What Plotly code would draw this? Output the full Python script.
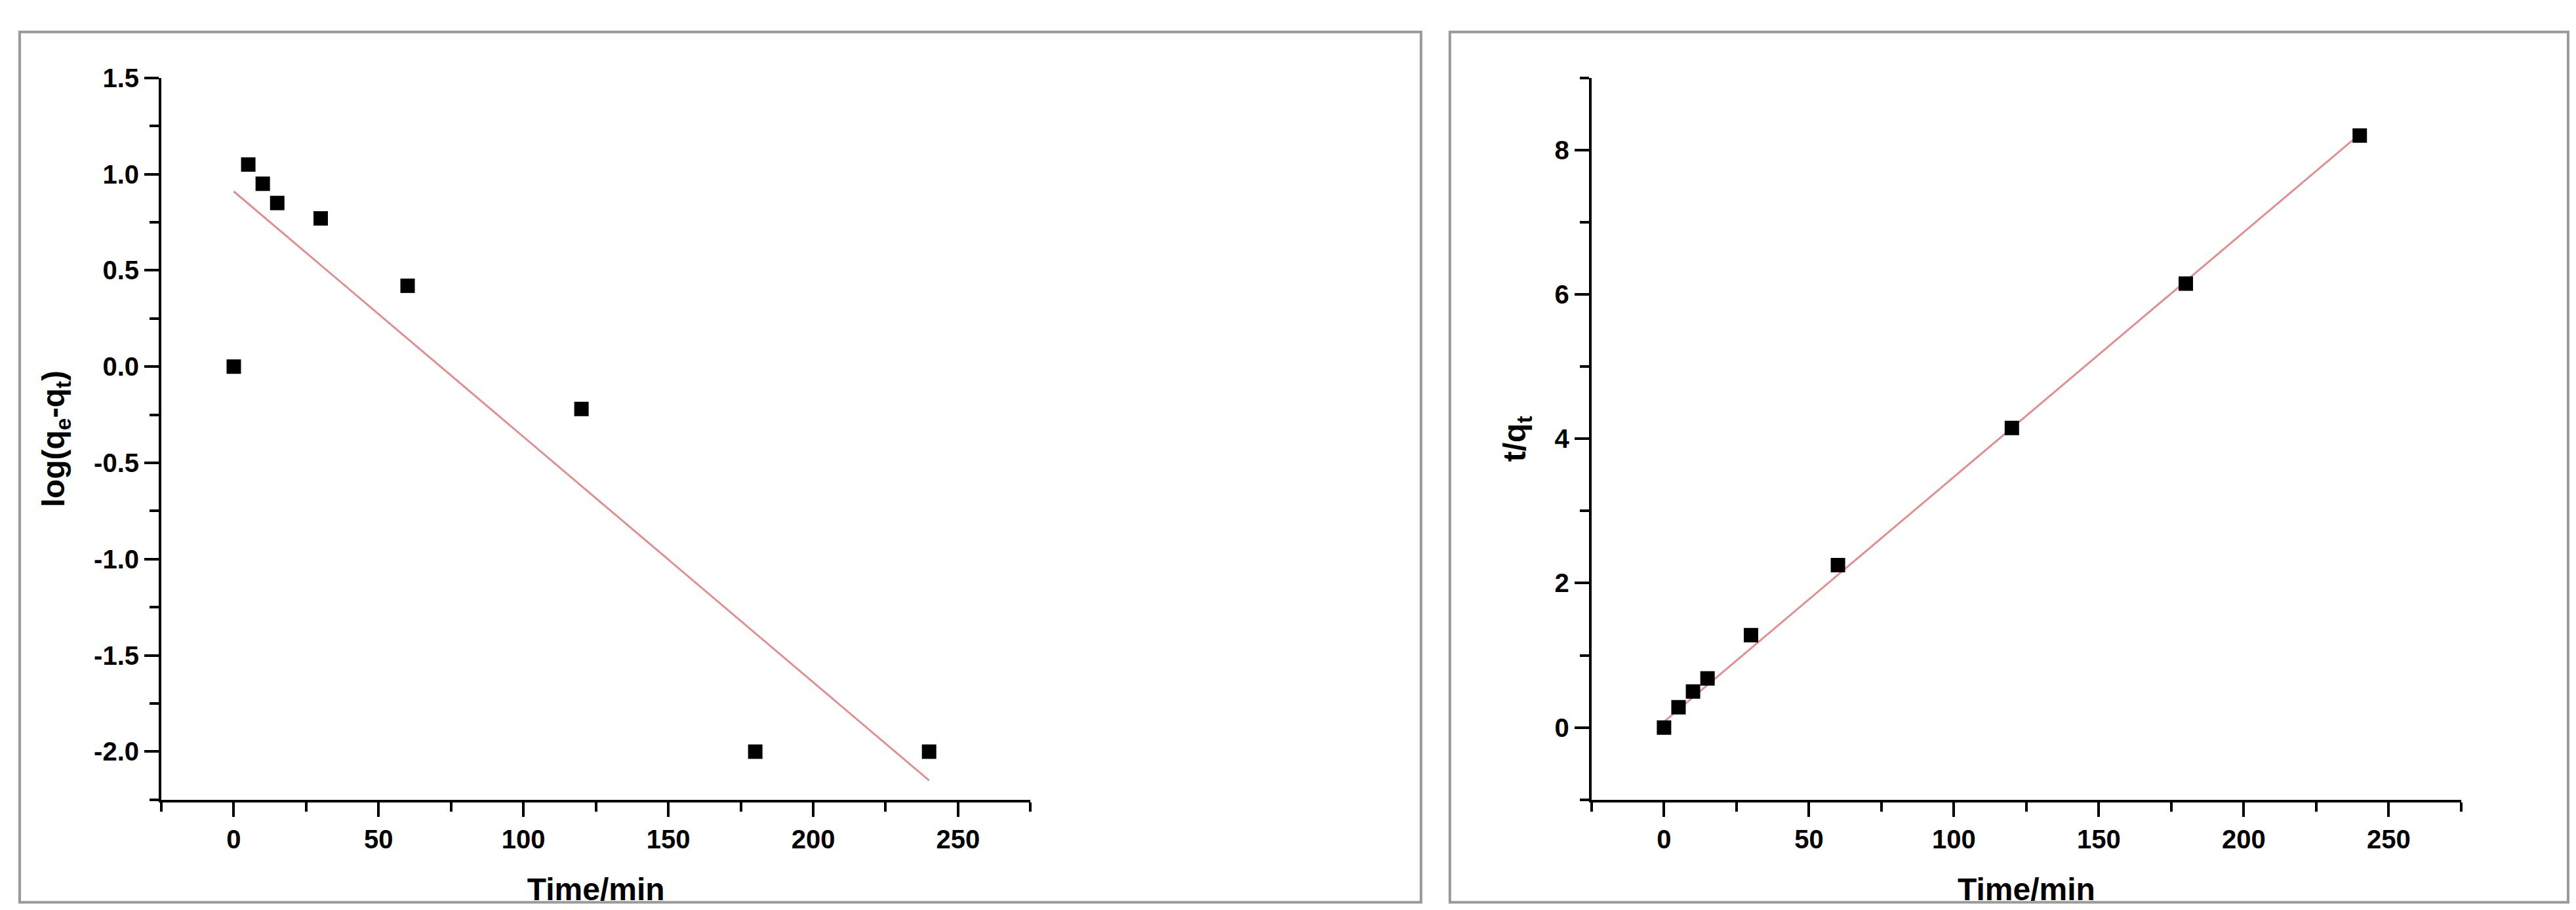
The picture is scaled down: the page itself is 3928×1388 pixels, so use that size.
import plotly.graph_objects as go

# pseudo-first-order (left) and pseudo-second-order (right) kinetics
time_min = [0, 5, 10, 15, 30, 60, 120, 180, 240]
log_qe_qt = [0.0, 1.05, 0.95, 0.85, 0.77, 0.42, -0.22, -2.0, -2.0]
t_over_qt = [0.0, 0.28, 0.50, 0.68, 1.28, 2.25, 4.15, 6.15, 8.20]

fit1_x = [0, 240]
fit1_y = [0.91, -2.15]
fit2_x = [0, 240]
fit2_y = [0.08, 8.22]

left_ticks = [1.5, 1.0, 0.5, 0.0, -0.5, -1.0, -1.5, -2.0]
left_ticktext = ["1.5", "1.0", "0.5", "0.0", "-0.5", "-1.0", "-1.5", "-2.0"]

FONT = "Liberation Sans"
LINE_RED = "#e09090"

fig = go.Figure()
fig.add_trace(go.Scatter(x=fit1_x, y=fit1_y, mode="lines",
                         line=dict(color=LINE_RED, width=3), xaxis="x", yaxis="y"))
fig.add_trace(go.Scatter(x=time_min, y=log_qe_qt, mode="markers",
                         marker=dict(symbol="square", size=22, color="black"),
                         xaxis="x", yaxis="y"))
fig.add_trace(go.Scatter(x=fit2_x, y=fit2_y, mode="lines",
                         line=dict(color=LINE_RED, width=3), xaxis="x2", yaxis="y2"))
fig.add_trace(go.Scatter(x=time_min, y=t_over_qt, mode="markers",
                         marker=dict(symbol="square", size=22, color="black"),
                         xaxis="x2", yaxis="y2"))

common = dict(showline=True, linecolor="black", linewidth=4, ticks="outside",
              ticklen=22, tickwidth=4, tickcolor="black", showgrid=False,
              zeroline=False,
              tickfont=dict(family=FONT, size=40, color="black", weight="bold"))

title_font = dict(family=FONT, size=48, color="black", weight="bold")

xaxis_common = dict(common, range=[-25, 275], dtick=50, tick0=0,
                    minor=dict(dtick=25, tick0=0, ticks="outside", ticklen=14,
                               tickwidth=4, tickcolor="black"),
                    title=dict(text="Time/min", standoff=40, font=title_font))

fig.update_layout(
    width=3928, height=1388,
    margin=dict(l=0, r=0, t=0, b=0),
    paper_bgcolor="white", plot_bgcolor="white",
    showlegend=False,
    xaxis=dict(xaxis_common, domain=[0.0606, 0.398], anchor="y"),
    yaxis=dict(common, domain=[0.129, 0.935], anchor="x",
               range=[-2.25, 1.5], tickmode="array",
               tickvals=left_ticks, ticktext=left_ticktext,
               minor=dict(dtick=0.25, tick0=0, ticks="outside", ticklen=14,
                          tickwidth=4, tickcolor="black"),
               title=dict(text="log(q<sub>e</sub>-q<sub>t</sub>)", standoff=30,
                          font=title_font)),
    xaxis2=dict(xaxis_common, domain=[0.6158, 0.9534], anchor="y2"),
    yaxis2=dict(common, domain=[0.129, 0.935], anchor="x2",
                range=[-1, 9], dtick=2, tick0=0,
                minor=dict(dtick=1, ticks="outside", ticklen=14,
                           tickwidth=4, tickcolor="black"),
                title=dict(text="t/q<sub>t</sub>", standoff=30, font=title_font)),
    shapes=[
        dict(type="rect", xref="paper", yref="paper", x0=0.0056, x1=0.5496,
             y0=0.0144, y1=0.9863, line=dict(color="#9a9a9a", width=4)),
        dict(type="rect", xref="paper", yref="paper", x0=0.5608, x1=0.9949,
             y0=0.0144, y1=0.9863, line=dict(color="#9a9a9a", width=4)),
    ],
)

fig.write_html("out.html")
